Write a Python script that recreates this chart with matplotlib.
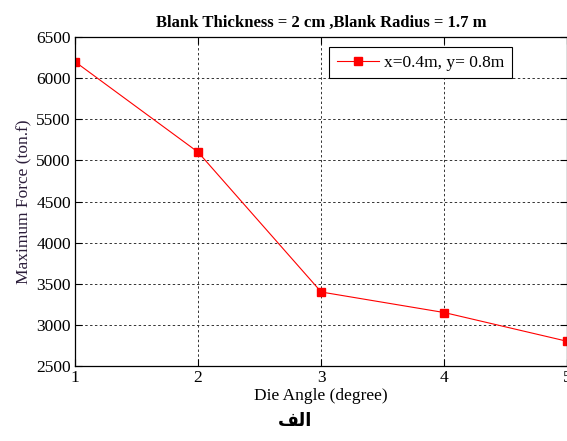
import matplotlib
matplotlib.use("Agg")
import matplotlib.pyplot as plt
from matplotlib.ticker import MultipleLocator

# Data
die_angle = [1, 2, 3, 4, 5]
max_force = [6200, 5100, 3400, 3150, 2800]
series_label = "x=0.4m, y= 0.8m"
title = "Blank Thickness = 2 cm ,Blank Radius = 1.7 m"
xlabel = "Die Angle (degree)"
ylabel = "Maximum Force (ton.f)"
caption_logical = "الف"
# visual (shaped, right-to-left) form of the caption for display
caption_visual = "\uFED2\uFEDF\uFE8D"

plt.rcParams['font.family'] = ['Liberation Serif', 'DejaVu Serif']

fig = plt.figure(figsize=(5.67, 4.41), dpi=100)
ax = fig.add_axes([0.1323, 0.170, 0.8685, 0.746])

ax.plot(die_angle, max_force, color='red', lw=0.8, marker='s', ms=5.5,
        markerfacecolor='red', markeredgecolor='red', label=series_label)

ax.set_xlim(1, 5)
ax.set_ylim(2500, 6500)
ax.xaxis.set_major_locator(MultipleLocator(1))
ax.yaxis.set_major_locator(MultipleLocator(500))
ax.grid(True, color='#333333', linestyle=(0, (2.5, 2.5)), linewidth=0.7)
ax.tick_params(direction='in', top=True, right=True, labelsize=12.5, length=5, width=0.8, pad=3)
for s in ax.spines.values():
    s.set_linewidth(0.9)

ax.set_title(title, fontsize=12, fontweight='bold', pad=7)
ax.set_xlabel(xlabel, fontsize=12.5, labelpad=1)
ax.set_ylabel(ylabel, fontsize=12.5, color='#2b1d3a', labelpad=3)

leg = ax.legend(loc='upper right', bbox_to_anchor=(0.905, 0.997), fontsize=12.5,
                fancybox=False, edgecolor='black', framealpha=1,
                handlelength=2.4, borderpad=0.45, handletextpad=0.3)
leg.get_frame().set_linewidth(0.8)

fig.text(0.52, 0.025, caption_visual, fontsize=13, fontweight='bold',
         family=['DejaVu Sans'], ha='center', va='bottom')

fig.savefig("out.png", dpi=100)
